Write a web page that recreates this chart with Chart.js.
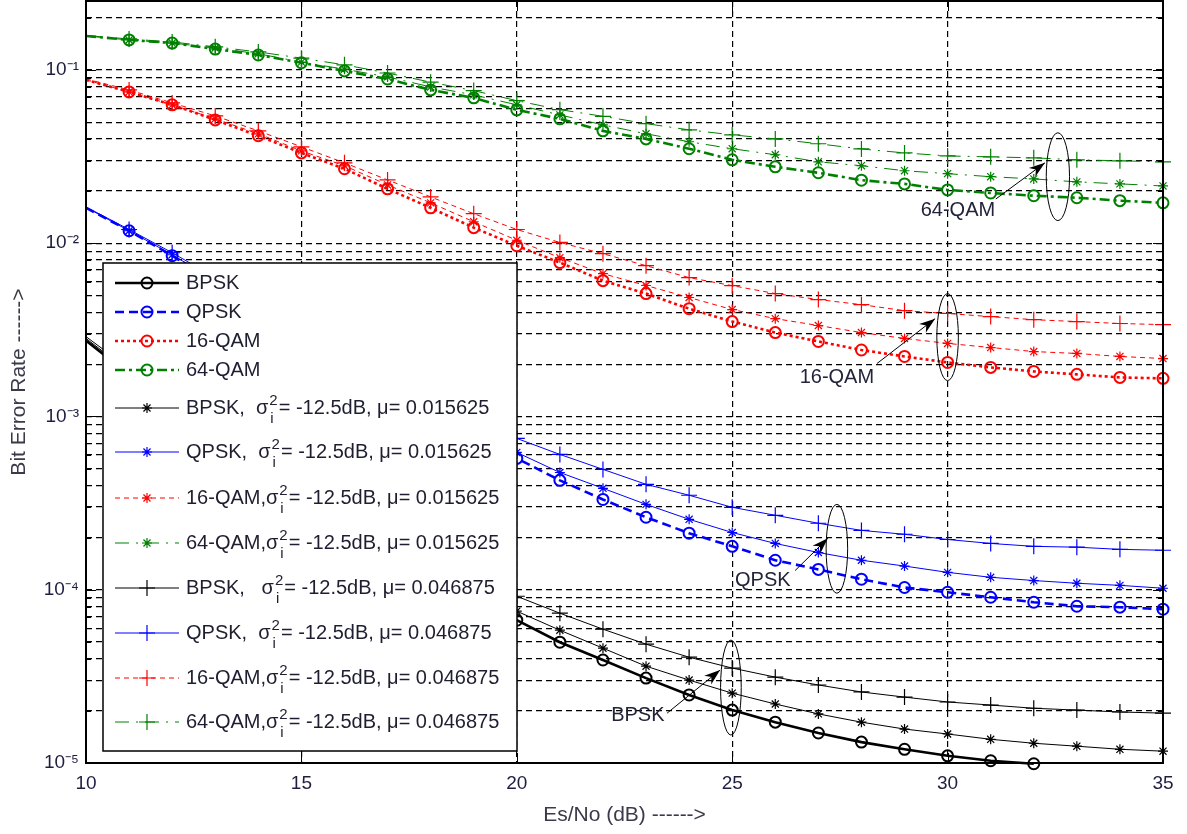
<!DOCTYPE html>
<html>
<head>
<meta charset="utf-8">
<title>BER vs Es/No</title>
<script src="https://cdn.jsdelivr.net/npm/chart.js@4.4.1/dist/chart.umd.min.js"></script>
<style>
  html, body { margin: 0; padding: 0; background: #fff; }
  #wrap { width: 1187px; height: 834px; }
</style>
</head>
<body>
<div id="wrap"><canvas id="ber-chart" width="1187" height="834"></canvas></div>
<script>
// Es/No axis (dB)
const snrDb = [10, 11, 12, 13, 14, 15, 16, 17, 18, 19, 20, 21, 22, 23, 24, 25, 26, 27, 28, 29, 30, 31, 32, 33, 34, 35];

// ideal curves (BPSK stops at 32 dB)
const berBpsk = [2.74e-3, 1.75e-3, 1.13e-3, 7.37e-4, 4.95e-4, 3.37e-4, 2.35e-4, 1.67e-4, 1.20e-4, 8.93e-5, 6.67e-5, 4.98e-5, 3.93e-5, 3.09e-5, 2.47e-5, 2.02e-5, 1.72e-5, 1.49e-5, 1.32e-5, 1.20e-5, 1.10e-5, 1.03e-5, 0.99e-5];
const berQpsk = [1.60e-2, 1.18e-2, 8.47e-3, 6.00e-3, 4.19e-3, 2.93e-3, 2.07e-3, 1.47e-3, 1.05e-3, 7.67e-4, 5.73e-4, 4.28e-4, 3.32e-4, 2.62e-4, 2.12e-4, 1.78e-4, 1.48e-4, 1.31e-4, 1.15e-4, 1.03e-4, 9.67e-5, 9.05e-5, 8.47e-5, 8.03e-5, 7.93e-5, 7.72e-5];
const ber16Qam = [8.76e-2, 7.47e-2, 6.29e-2, 5.15e-2, 4.17e-2, 3.32e-2, 2.69e-2, 2.06e-2, 1.60e-2, 1.23e-2, 9.67e-3, 7.73e-3, 6.08e-3, 5.12e-3, 4.19e-3, 3.53e-3, 3.05e-3, 2.71e-3, 2.42e-3, 2.22e-3, 2.05e-3, 1.92e-3, 1.82e-3, 1.75e-3, 1.68e-3, 1.66e-3];
const ber64Qam = [0.157, 0.149, 0.143, 0.132, 0.122, 0.110, 0.0987, 0.0887, 0.0767, 0.0690, 0.0588, 0.0522, 0.0445, 0.0400, 0.0351, 0.0303, 0.0276, 0.0255, 0.0231, 0.0220, 0.0203, 0.0195, 0.0188, 0.0183, 0.0176, 0.0171];

// sigma_i^2 = -12.5 dB, mu = 0.015625  (star markers)
const berBpskMu1 = [2.82e-3, 1.82e-3, 1.17e-3, 7.77e-4, 5.22e-4, 3.60e-4, 2.55e-4, 1.83e-4, 1.33e-4, 9.93e-5, 7.52e-5, 5.84e-5, 4.60e-5, 3.62e-5, 3.01e-5, 2.53e-5, 2.19e-5, 1.92e-5, 1.72e-5, 1.57e-5, 1.47e-5, 1.37e-5, 1.30e-5, 1.25e-5, 1.20e-5, 1.17e-5];
const berQpskMu1 = [1.61e-2, 1.18e-2, 8.58e-3, 6.08e-3, 4.31e-3, 3.05e-3, 2.16e-3, 1.55e-3, 1.13e-3, 8.30e-4, 6.20e-4, 4.75e-4, 3.85e-4, 3.11e-4, 2.55e-4, 2.14e-4, 1.85e-4, 1.64e-4, 1.48e-4, 1.37e-4, 1.26e-4, 1.18e-4, 1.13e-4, 1.09e-4, 1.06e-4, 1.02e-4];
const ber16QamMu1 = [8.76e-2, 7.47e-2, 6.29e-2, 5.22e-2, 4.28e-2, 3.41e-2, 2.80e-2, 2.17e-2, 1.71e-2, 1.33e-2, 1.04e-2, 8.25e-3, 6.67e-3, 5.70e-3, 4.86e-3, 4.14e-3, 3.67e-3, 3.35e-3, 3.05e-3, 2.82e-3, 2.64e-3, 2.50e-3, 2.37e-3, 2.31e-3, 2.22e-3, 2.16e-3];
const ber64QamMu1 = [0.157, 0.149, 0.143, 0.134, 0.124, 0.111, 0.101, 0.0912, 0.0798, 0.0718, 0.0629, 0.0550, 0.0482, 0.0428, 0.0385, 0.0351, 0.0324, 0.0295, 0.0280, 0.0262, 0.0252, 0.0242, 0.0235, 0.0226, 0.0220, 0.0214];

// sigma_i^2 = -12.5 dB, mu = 0.046875  (plus markers)
const berBpskMu2 = [2.89e-3, 1.89e-3, 1.25e-3, 8.41e-4, 5.80e-4, 4.06e-4, 2.91e-4, 2.12e-4, 1.56e-4, 1.18e-4, 9.17e-5, 7.32e-5, 5.92e-5, 4.85e-5, 4.08e-5, 3.53e-5, 3.13e-5, 2.82e-5, 2.57e-5, 2.40e-5, 2.25e-5, 2.16e-5, 2.07e-5, 2.02e-5, 1.97e-5, 1.94e-5];
const berQpskMu2 = [1.62e-2, 1.20e-2, 8.81e-3, 6.33e-3, 4.54e-3, 3.26e-3, 2.37e-3, 1.75e-3, 1.29e-3, 9.62e-4, 7.47e-4, 6.04e-4, 4.95e-4, 4.06e-4, 3.51e-4, 2.99e-4, 2.69e-4, 2.42e-4, 2.20e-4, 2.09e-4, 1.95e-4, 1.85e-4, 1.78e-4, 1.76e-4, 1.71e-4, 1.69e-4];
const ber16QamMu2 = [8.87e-2, 7.67e-2, 6.45e-2, 5.43e-2, 4.45e-2, 3.60e-2, 2.91e-2, 2.32e-2, 1.85e-2, 1.48e-2, 1.20e-2, 1.01e-2, 8.70e-3, 7.42e-3, 6.33e-3, 5.69e-3, 5.12e-3, 4.73e-3, 4.42e-3, 4.08e-3, 3.93e-3, 3.77e-3, 3.62e-3, 3.53e-3, 3.44e-3, 3.39e-3];
const ber64QamMu2 = [0.158, 0.151, 0.145, 0.136, 0.127, 0.117, 0.107, 0.0960, 0.0850, 0.0760, 0.0665, 0.0590, 0.0540, 0.0490, 0.0451, 0.0422, 0.0400, 0.0375, 0.0350, 0.0332, 0.0319, 0.0315, 0.0311, 0.0303, 0.0299, 0.0295];

// axis ticks
const xTicks = [10, 15, 20, 25, 30, 35];
const yDecades = [1e-5, 1e-4, 1e-3, 1e-2, 1e-1];
const yDecadeLabels = ['10⁻⁵', '10⁻⁴', '10⁻³', '10⁻²', '10⁻¹'];

// legend text: [before sigma, after sigma] (second part missing = plain label)
const legendText = [
    ['BPSK'], ['QPSK'], ['16-QAM'], ['64-QAM'],
    ['BPSK,  σ', '= -12.5dB, μ= 0.015625'],
    ['QPSK,  σ', '= -12.5dB, μ= 0.015625'],
    ['16-QAM,σ', '= -12.5dB, μ= 0.015625'],
    ['64-QAM,σ', '= -12.5dB, μ= 0.015625'],
    ['BPSK,   σ', '= -12.5dB, μ= 0.046875'],
    ['QPSK,  σ', '= -12.5dB, μ= 0.046875'],
    ['16-QAM,σ', '= -12.5dB, μ= 0.046875'],
    ['64-QAM,σ', '= -12.5dB, μ= 0.046875']
];

// callouts: ellipse around curve group + arrow from label (data units)
const callouts = [
    { text: '64-QAM', cx: 32.56, top: 0.0434, bottom: 0.0135, rx: 0.27, from: [31.12, 0.0180], to: [32.26, 0.0291], at: [30.24, 0.0154] },
    { text: '16-QAM', cx: 30.0, top: 0.00512, bottom: 0.00161, rx: 0.25, from: [28.36, 0.00202], to: [29.71, 0.00367], at: [27.43, 0.00168] },
    { text: 'QPSK', cx: 27.43, top: 3.11e-4, bottom: 9.55e-5, rx: 0.25, from: [26.46, 1.29e-4], to: [27.22, 1.98e-4], at: [25.71, 1.13e-4] },
    { text: 'BPSK', cx: 24.97, top: 5.12e-5, bottom: 1.45e-5, rx: 0.24, from: [23.49, 1.94e-5], to: [24.72, 3.44e-5], at: [22.81, 1.87e-5] }
];

const FONT = '"Liberation Sans", Arial, sans-serif';
Chart.defaults.font.family = FONT;

const yGridValues = [];
yDecades.forEach(d => {
    for (let k = 1; k <= 9; k++) {
        const v = +(d * k).toPrecision(3);
        if (v <= 0.25) yGridValues.push(v);
    }
});

const toPoints = arr => arr.map((y, i) => ({ x: snrDb[i], y }));
const hideFirst = r => ctx => (ctx.raw && ctx.raw.x === 10 ? 0 : r);

const makeSet = (data, color, width, dash, style, radius) => ({
    data: toPoints(data),
    borderColor: color,
    backgroundColor: color,
    borderWidth: width,
    borderDash: dash,
    pointStyle: style,
    pointRadius: hideFirst(radius),
    pointHoverRadius: 0,
    pointBorderColor: color,
    pointBackgroundColor: 'rgba(0,0,0,0)',
    pointBorderWidth: style === 'circle' ? 2 : 1.2,
    tension: 0,
    clip: { left: 0, top: 0, right: 12, bottom: 8 }
});

const datasets = [
    makeSet(berBpsk, '#000000', 2.6, [], 'circle', 5.5),
    makeSet(berQpsk, '#0000ff', 2.6, [9, 5], 'circle', 5.5),
    makeSet(ber16Qam, '#ff0000', 2.6, [3, 3], 'circle', 5.5),
    makeSet(ber64Qam, '#008000', 2.6, [10, 4, 3, 4], 'circle', 5.5),
    makeSet(berBpskMu1, '#000000', 1, [], 'star', 5),
    makeSet(berQpskMu1, '#0000ff', 1, [], 'star', 5),
    makeSet(ber16QamMu1, '#ff0000', 1, [5, 4], 'star', 5),
    makeSet(ber64QamMu1, '#008000', 1, [14, 7, 2, 7], 'star', 5),
    makeSet(berBpskMu2, '#000000', 1, [], 'cross', 8),
    makeSet(berQpskMu2, '#0000ff', 1, [], 'cross', 8),
    makeSet(ber16QamMu2, '#ff0000', 1, [5, 4], 'cross', 8),
    makeSet(ber64QamMu2, '#008000', 1, [14, 7, 2, 7], 'cross', 8)
];
datasets.forEach((d, i) => { d.label = legendText[i].join('i2'); });

const decorPlugin = {
    id: 'decor',
    afterDatasetsDraw(chart) {
        const ctx = chart.ctx;
        const xs = chart.scales.x, ys = chart.scales.y;
        const area = chart.chartArea;
        const px = v => xs.getPixelForValue(v);
        const py = v => ys.getPixelForValue(v);

        // callouts
        ctx.save();
        ctx.strokeStyle = '#000';
        ctx.fillStyle = '#000';
        ctx.lineWidth = 1;
        callouts.forEach(c => {
            const cx = px(c.cx);
            const yt = py(c.top), yb = py(c.bottom);
            const rx = px(c.cx + c.rx) - cx;
            ctx.beginPath();
            ctx.ellipse(cx, (yt + yb) / 2, rx, (yb - yt) / 2, 0, 0, Math.PI * 2);
            ctx.stroke();

            const x1 = px(c.from[0]), y1 = py(c.from[1]);
            const x2 = px(c.to[0]), y2 = py(c.to[1]);
            ctx.beginPath();
            ctx.moveTo(x1, y1);
            ctx.lineTo(x2, y2);
            ctx.stroke();
            const a = Math.atan2(y2 - y1, x2 - x1);
            const len = 16, w = 5.5;
            ctx.beginPath();
            ctx.moveTo(x2, y2);
            ctx.lineTo(x2 - len * Math.cos(a) + w * Math.sin(a), y2 - len * Math.sin(a) - w * Math.cos(a));
            ctx.lineTo(x2 - len * Math.cos(a) * 0.7, y2 - len * Math.sin(a) * 0.7);
            ctx.lineTo(x2 - len * Math.cos(a) - w * Math.sin(a), y2 - len * Math.sin(a) + w * Math.cos(a));
            ctx.closePath();
            ctx.fill();

            ctx.font = '20px ' + FONT;
            ctx.fillStyle = '#23233a';
            ctx.textAlign = 'center';
            ctx.textBaseline = 'middle';
            ctx.fillText(c.text, px(c.at[0]), py(c.at[1]));
            ctx.fillStyle = '#000';
        });
        ctx.restore();

        // frame + inside ticks
        ctx.save();
        ctx.strokeStyle = '#000';
        ctx.lineWidth = 1;
        ctx.beginPath();
        yGridValues.forEach(v => {
            const y = Math.round(py(v)) + 0.5;
            const major = yDecades.includes(v);
            const l = major ? 10 : 5;
            ctx.moveTo(area.left, y); ctx.lineTo(area.left + l, y);
            ctx.moveTo(area.right, y); ctx.lineTo(area.right - l, y);
        });
        xTicks.forEach(v => {
            const x = Math.round(px(v)) + 0.5;
            ctx.moveTo(x, area.bottom); ctx.lineTo(x, area.bottom - 10);
            ctx.moveTo(x, area.top); ctx.lineTo(x, area.top + 10);
        });
        ctx.stroke();
        ctx.lineWidth = 2;
        ctx.strokeRect(area.left, area.top, area.right - area.left, area.bottom - area.top);
        ctx.restore();

        // legend box
        const box = { left: 103, top: 263, right: 517, bottom: 751 };
        const rowY = [283, 312, 341, 370, 408, 452, 498, 543, 588, 633, 678, 722];
        ctx.save();
        ctx.fillStyle = '#fff';
        ctx.fillRect(box.left, box.top, box.right - box.left, box.bottom - box.top);
        ctx.strokeStyle = '#000';
        ctx.lineWidth = 1.5;
        ctx.strokeRect(box.left, box.top, box.right - box.left, box.bottom - box.top);
        chart.data.datasets.forEach((d, i) => {
            const y = rowY[i];
            ctx.save();
            ctx.strokeStyle = d.borderColor;
            ctx.lineWidth = d.borderWidth;
            ctx.setLineDash(d.borderDash);
            ctx.beginPath();
            ctx.moveTo(115, y);
            ctx.lineTo(179, y);
            ctx.stroke();
            ctx.setLineDash([]);
            ctx.lineWidth = d.pointBorderWidth;
            ctx.fillStyle = 'rgba(0,0,0,0)';
            const r = d.pointStyle === 'circle' ? 5.5 : (d.pointStyle === 'star' ? 5 : 8);
            Chart.helpers.drawPoint(ctx, { pointStyle: d.pointStyle, radius: r, borderWidth: d.pointBorderWidth, rotation: 0 }, 147, y);
            ctx.restore();

            const parts = legendText[i];
            ctx.fillStyle = '#1e1e30';
            ctx.textAlign = 'left';
            ctx.textBaseline = 'middle';
            ctx.font = '20px ' + FONT;
            let x = 186;
            ctx.fillText(parts[0], x, y);
            if (parts.length > 1) {
                x += ctx.measureText(parts[0]).width + 1;
                ctx.font = '15px ' + FONT;
                ctx.fillText('2', x, y - 7);
                ctx.fillText('i', x + 1, y + 11);
                x += ctx.measureText('2').width + 1;
                ctx.font = '20px ' + FONT;
                ctx.fillText(parts[1], x, y);
            }
        });
        ctx.restore();
    }
};

new Chart(document.getElementById('ber-chart'), {
    type: 'line',
    data: { datasets },
    options: {
        responsive: false,
        animation: false,
        events: [],
        layout: { autoPadding: false, padding: { left: 0, top: 1, right: 24, bottom: 0 } },
        plugins: { legend: { display: false }, tooltip: { enabled: false } },
        scales: {
            x: {
                type: 'linear',
                min: 10,
                max: 35,
                afterBuildTicks: scale => { scale.ticks = xTicks.map(v => ({ value: v })); },
                afterFit: scale => { scale.height = 71; scale.paddingLeft = 0; scale.paddingRight = 0; },
                ticks: { font: { size: 19 }, color: '#1e1e40', padding: 9, maxRotation: 0 },
                grid: { color: '#000', lineWidth: 1.2, drawTicks: false },
                border: { display: false, dash: [6, 4] },
                title: { display: true, text: 'Es/No (dB) ------>', font: { size: 21 }, color: '#3a3a4a', padding: { top: 6, bottom: 6 } }
            },
            y: {
                type: 'logarithmic',
                min: 1e-5,
                max: 0.25,
                afterBuildTicks: scale => { scale.ticks = yGridValues.map(v => ({ value: v })); },
                afterFit: scale => { scale.width = 86; scale.paddingTop = 0; scale.paddingBottom = 0; },
                ticks: {
                    autoSkip: false,
                    font: { size: 19 },
                    color: '#1e1e40',
                    padding: 7,
                    callback: v => {
                        const k = yDecades.findIndex(d => Math.abs(d - v) / d < 1e-6);
                        return k >= 0 ? yDecadeLabels[k] : '';
                    }
                },
                grid: { color: '#000', lineWidth: 1.2, drawTicks: false },
                border: { display: false, dash: [6, 4] },
                title: { display: true, text: 'Bit Error Rate ------>', font: { size: 21 }, color: '#3a3a4a', padding: { top: 7, bottom: 7 } }
            }
        }
    },
    plugins: [decorPlugin]
});
</script>
</body>
</html>
